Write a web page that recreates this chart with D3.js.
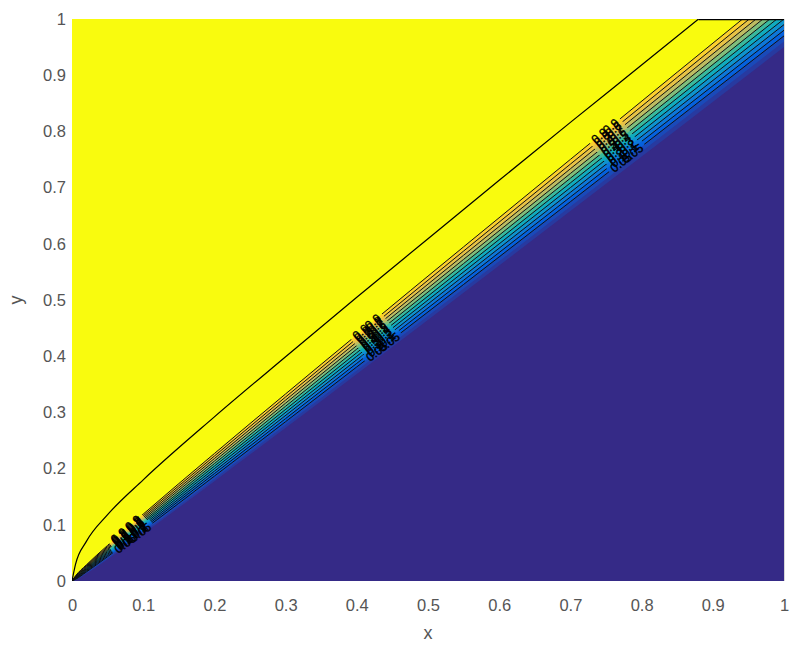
<!DOCTYPE html>
<html>
<head>
<meta charset="utf-8">
<script src="https://cdn.jsdelivr.net/npm/d3@7"></script>
<style>
body{margin:0;background:#fff}
text{font-family:"Liberation Sans",Arial,sans-serif}
</style>
</head>
<body>
<div id="chart"></div>
<script>
var bandXs = [0, 0.005, 0.02, 0.05, 0.1, 0.2, 0.4, 0.7, 1.0]
// contour lines of the thin band, top one first
var bandLines = [
	[0, 0.0092, 0.0285, 0.0634, 0.1190, 0.2268, 0.4380, 0.7502, 1.06],
	[0, 0.0085, 0.0271, 0.0612, 0.1158, 0.2224, 0.4316, 0.7418, 1.05],
	[0, 0.0078, 0.0257, 0.0589, 0.1126, 0.2179, 0.4253, 0.7335, 1.04],
	[0, 0.0071, 0.0242, 0.0567, 0.1095, 0.2134, 0.4190, 0.7251, 1.03],
	[0, 0.0064, 0.0228, 0.0545, 0.1063, 0.2089, 0.4127, 0.7167, 1.02],
	[0, 0.0057, 0.0214, 0.0522, 0.1032, 0.2045, 0.4063, 0.7084, 1.01],
	[0, 0.0050, 0.0200, 0.0500, 0.1000, 0.2000, 0.4000, 0.7000, 1.00],
	[0, 0.0043, 0.0186, 0.0478, 0.0968, 0.1955, 0.3937, 0.6916, 0.99],
	[0, 0.0036, 0.0172, 0.0455, 0.0937, 0.1911, 0.3873, 0.6833, 0.98],
	[0, 0.0029, 0.0158, 0.0433, 0.0905, 0.1866, 0.3810, 0.6749, 0.97]
]
// soft blue edge under the band (no line drawn)
var fadeLines = [
	[0, 0.0022, 0.0143, 0.0411, 0.0874, 0.1821, 0.3747, 0.6665, 0.96],
	[0, 0.0015, 0.0129, 0.0388, 0.0842, 0.1776, 0.3684, 0.6582, 0.95]
]
var bandLevels = ["0.9","0.8","0.7","0.6","0.5","0.4","0.3","0.2","0.1","0.05"]
// parula value of the region just below each line
var bandBelow = [0.88, 0.8, 0.7, 0.6, 0.5, 0.4, 0.3, 0.2, 0.12, 0.07]
var fadeBelow = [0.035, 0]
// separate upper contour, then its run along the top edge
var upperCurve = [[0,0],[0.005,0.03],[0.02,0.07],[0.05,0.118],[0.1,0.18],[0.2,0.292],[0.3,0.399],[0.4,0.505],[0.5,0.609],[0.6,0.713],[0.7,0.816],[0.8,0.918],[0.88,1.0]]
var upperTop = [[0.88,1.0],[1.0,1.0]]
// where clabel put its label chains
var labelSpots = [[0.0675,0.078],[0.0886,0.0996],[0.422,0.418],[0.440,0.434],[0.757,0.767],[0.778,0.776]]
var ticks = [0,0.1,0.2,0.3,0.4,0.5,0.6,0.7,0.8,0.9,1]

var parulaStops = ['#352a87','#0363e1','#1485d4','#06a7c6','#38b99e','#92bf73','#d9ba56','#fcce2e','#f9fb0e']
var parula = d3.piecewise(d3.interpolateRgb, parulaStops)

var W=795, H=648
var x = d3.scaleLinear().domain([0,1]).range([72,784])
var y = d3.scaleLinear().domain([0,1]).range([581,19])

var svg = d3.select("#chart").append("svg").attr("width",W).attr("height",H)
var defs = svg.append("defs")
defs.append("clipPath").attr("id","plotClip").append("rect")
	.attr("x",x(0)).attr("y",y(1)).attr("width",x(1)-x(0)).attr("height",y(0)-y(1))

var plot = svg.append("g").attr("clip-path","url(#plotClip)")

plot.append("rect").attr("x",x(0)).attr("y",y(1)).attr("width",x(1)-x(0)).attr("height",y(0)-y(1))
	.attr("fill",parula(0))

var pts = function(line){ return line.map(function(v,i){return [bandXs[i],v]}) }

var area = d3.area().x(function(d){return x(d[0])}).y0(y(1.2)).y1(function(d){return y(d[1])}).curve(d3.curveMonotoneX)
var line = d3.line().x(function(d){return x(d[0])}).y(function(d){return y(d[1])}).curve(d3.curveMonotoneX)

// paint from the lowest line upward, each fill covers everything above it
var allLines = bandLines.concat(fadeLines)
var allBelow = bandBelow.concat(fadeBelow)
for(var i=allLines.length-1;i>=0;i--){
	var col = i==0 ? parula(1) : parula(allBelow[i-1])
	plot.append("path").attr("d",area(pts(allLines[i]))).attr("fill",col)
}

// label gaps in the lines
var mask = defs.append("mask").attr("id","labelMask").attr("maskUnits","userSpaceOnUse")
	.attr("x",0).attr("y",0).attr("width",W).attr("height",H)
mask.append("rect").attr("width",W).attr("height",H).attr("fill","#fff")

var linesG = plot.append("g").attr("mask","url(#labelMask)")
var paths = bandLines.map(function(l){
	return linesG.append("path").attr("d",line(pts(l))).attr("fill","none").attr("stroke","#111").attr("stroke-width",1)
})
linesG.append("path").attr("d",line(upperCurve)).attr("fill","none").attr("stroke","#000").attr("stroke-width",1.2)
linesG.append("path").attr("d",d3.line().x(function(d){return x(d[0])}).y(function(d){return y(d[1])})(upperTop))
	.attr("fill","none").attr("stroke","#000").attr("stroke-width",2.4)

var labelsG = svg.append("g")
labelSpots.forEach(function(s){
	var sx=x(s[0]), sy=y(s[1])
	paths.forEach(function(p,li){
		var node=p.node(), len=node.getTotalLength(), best=null, bd=1e9
		for(var t=0;t<len;t+=0.5){
			var q=node.getPointAtLength(t), d=(q.x-sx)*(q.x-sx)+(q.y-sy)*(q.y-sy)
			if(d<bd){bd=d;best=t}
		}
		var a=node.getPointAtLength(Math.max(0,best-3)), b=node.getPointAtLength(Math.min(len,best+3)), c=node.getPointAtLength(best)
		var ang=Math.atan2(b.y-a.y,b.x-a.x)*180/Math.PI
		var w=bandLevels[li].length*6.5
		mask.append("rect").attr("x",-w/2-2).attr("y",-5.5).attr("width",w+4).attr("height",11).attr("fill","#000")
			.attr("transform","translate("+c.x+","+c.y+") rotate("+ang+")")
		labelsG.append("text").attr("transform","translate("+c.x+","+c.y+") rotate("+ang+")")
			.attr("text-anchor","middle").attr("dy","0.35em").attr("font-size","12px").attr("fill","#000")
			.attr("stroke","#000").attr("stroke-width",0.35)
			.text(bandLevels[li])
	})
})

// axes, only labels as in the picture
var fmt = d3.format("~g")
svg.append("g").attr("transform","translate(0,"+y(0)+")")
	.call(d3.axisBottom(x).tickValues(ticks).tickSize(0).tickPadding(18).tickFormat(fmt))
svg.append("g").attr("transform","translate("+x(0)+",0)")
	.call(d3.axisLeft(y).tickValues(ticks).tickSize(0).tickPadding(6).tickFormat(fmt))
svg.selectAll(".domain").remove()
svg.selectAll(".tick text").attr("font-size","16.5px").attr("fill","#555").attr("font-family","Liberation Sans, Arial, sans-serif")

svg.append("line").attr("x1",x(1)+0.5).attr("x2",x(1)+0.5).attr("y1",y(1)).attr("y2",y(0)).attr("stroke","#d8d8d8")

svg.append("text").attr("x",(x(0)+x(1))/2).attr("y",639).attr("text-anchor","middle")
	.attr("font-size","18px").attr("fill","#555").text("x")
svg.append("text").attr("transform","translate(22,"+y(0.5)+") rotate(-90)").attr("text-anchor","middle")
	.attr("font-size","18px").attr("fill","#555").text("y")
</script>
</body>
</html>
